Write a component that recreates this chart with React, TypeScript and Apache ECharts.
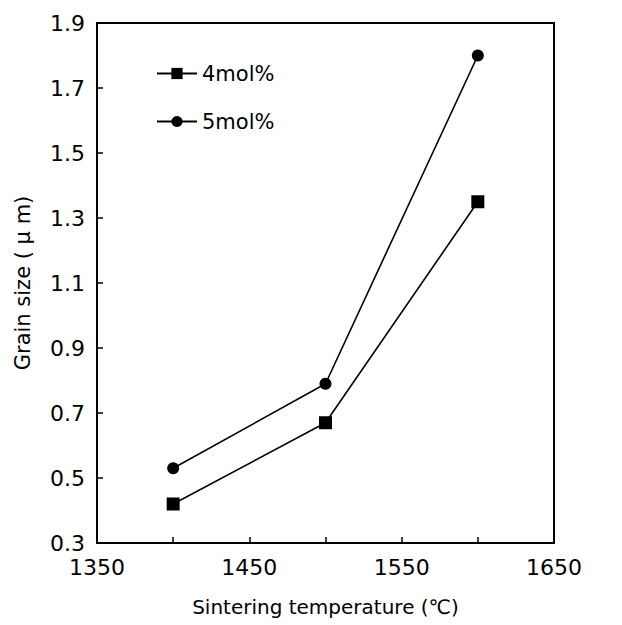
import React, { useEffect, useRef } from "react";
import * as echarts from "echarts";

const seriesNames = ["4mol%", "5mol%"];
const temperatures = [1400, 1500, 1600];
const grain4 = [0.42, 0.67, 1.35];
const grain5 = [0.53, 0.79, 1.8];
const xLabelsShown = [1350, 1450, 1550, 1650];

const FONT = "DejaVu Sans";

export default function App() {
  const ref = useRef<HTMLDivElement>(null);
  useEffect(() => {
    if (!ref.current) return;
    const chart = echarts.init(ref.current, undefined, { renderer: "svg" });
    const axisCommon = {
      axisLine: { show: true, lineStyle: { color: "#000", width: 2 } },
      axisTick: { show: true, inside: true, length: 6, lineStyle: { color: "#000", width: 1.5 } },
      splitLine: { show: false },
    };
    chart.setOption({
      animation: false,
      backgroundColor: "#fff",
      textStyle: { fontFamily: FONT },
      grid: {
        left: 97,
        top: 23,
        right: 68,
        bottom: 82,
        show: true,
        borderColor: "#000",
        borderWidth: 2,
        containLabel: false,
      },
      legend: {
        orient: "vertical",
        left: 151,
        top: 58,
        itemWidth: 40,
        itemHeight: 14,
        itemGap: 27,
        data: seriesNames,
        textStyle: { fontFamily: FONT, fontSize: 21, color: "#000" },
      },
      xAxis: {
        type: "value",
        min: 1350,
        max: 1650,
        interval: 50,
        name: "Sintering temperature (℃)",
        nameLocation: "middle",
        nameGap: 54,
        nameTextStyle: { fontFamily: FONT, fontSize: 20, color: "#000" },
        ...axisCommon,
        axisLabel: {
          color: "#000",
          fontSize: 22,
          fontFamily: FONT,
          margin: 13,
          formatter: (v: number) => (xLabelsShown.includes(Math.round(v)) ? String(Math.round(v)) : ""),
        },
      },
      yAxis: {
        type: "value",
        min: 0.3,
        max: 1.9,
        interval: 0.2,
        name: "Grain size ( μ m)",
        nameLocation: "middle",
        nameGap: 64,
        nameTextStyle: { fontFamily: FONT, fontSize: 21, color: "#000" },
        ...axisCommon,
        axisLabel: {
          color: "#000",
          fontSize: 22,
          fontFamily: FONT,
          margin: 12,
          formatter: (v: number) => v.toFixed(1),
        },
      },
      series: [
        {
          name: seriesNames[0],
          type: "line",
          data: temperatures.map((t, i) => [t, grain4[i]]),
          symbol: "rect",
          symbolSize: 13,
          lineStyle: { color: "#000", width: 1.6 },
          itemStyle: { color: "#000" },
        },
        {
          name: seriesNames[1],
          type: "line",
          data: temperatures.map((t, i) => [t, grain5[i]]),
          symbol: "circle",
          symbolSize: 12,
          lineStyle: { color: "#000", width: 1.6 },
          itemStyle: { color: "#000" },
        },
      ],
    });
    return () => chart.dispose();
  }, []);
  return (
    <div
      ref={ref}
      style={{ position: "fixed", left: 0, top: 0, width: 622, height: 625, background: "#fff" }}
    />
  );
}
